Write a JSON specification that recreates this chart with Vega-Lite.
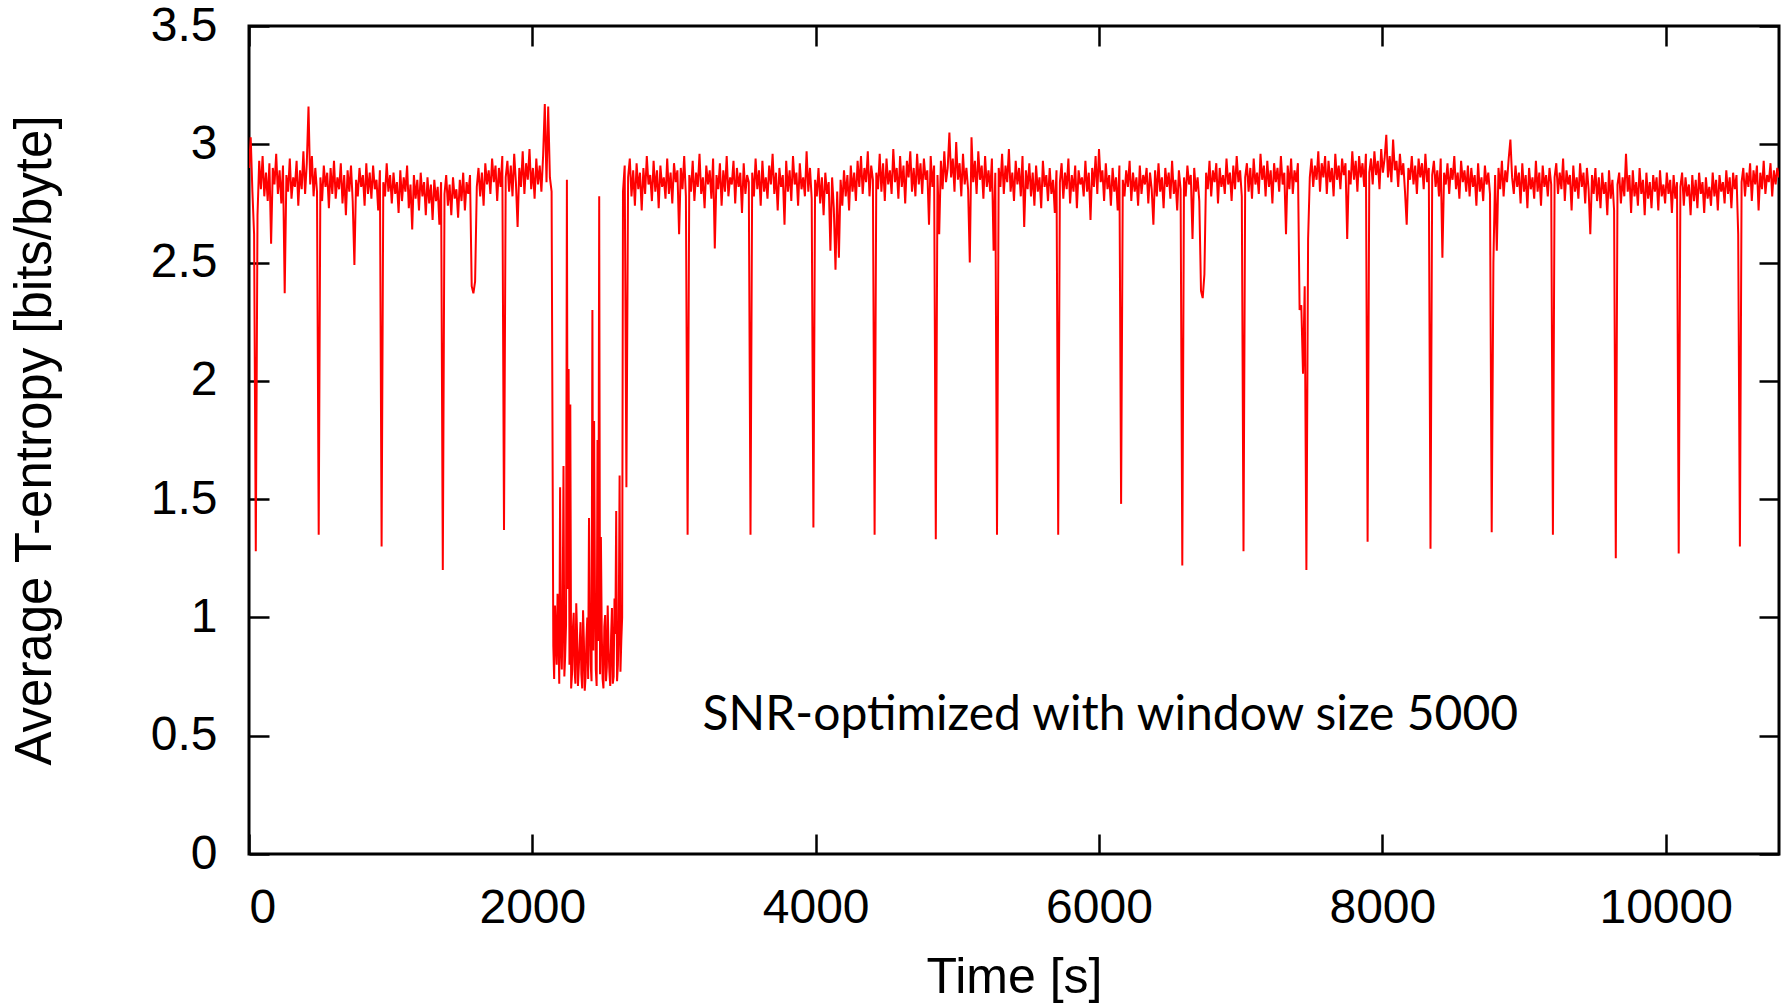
{
"$schema": "https://vega.github.io/schema/vega-lite/v6.json",
"width": 1530, "height": 828,
"autosize": {"type": "none"},
"padding": {"left": 249, "top": 26, "right": 7, "bottom": 154},
"background": "white",
"config": {"view": {"stroke": "black", "strokeWidth": 3}, "font": "Liberation Sans"},
"resolve": {"axis": {"x": "independent", "y": "independent"}},
"layer": [
{"data": {"values": [
{"t":0,"v":2.90},{"t":12,"v":3.03},{"t":24,"v":2.80},{"t":36,"v":2.62},{"t":48,"v":1.28},{"t":60,"v":2.70},{"t":72,"v":2.93},{"t":84,"v":2.81},{"t":96,"v":2.95},{"t":108,"v":2.78},
{"t":120,"v":2.88},{"t":132,"v":2.76},{"t":144,"v":2.92},{"t":156,"v":2.58},{"t":168,"v":2.90},{"t":180,"v":2.83},{"t":192,"v":2.96},{"t":204,"v":2.79},{"t":216,"v":2.89},{"t":228,"v":2.75},
{"t":240,"v":2.91},{"t":252,"v":2.37},{"t":264,"v":2.87},{"t":276,"v":2.80},{"t":288,"v":2.94},{"t":300,"v":2.77},{"t":312,"v":2.86},{"t":324,"v":2.82},{"t":336,"v":2.93},{"t":348,"v":2.74},
{"t":360,"v":2.89},{"t":372,"v":2.81},{"t":384,"v":2.97},{"t":396,"v":2.79},{"t":408,"v":2.92},{"t":420,"v":3.16},{"t":432,"v":2.83},{"t":444,"v":2.95},{"t":456,"v":2.78},{"t":468,"v":2.90},
{"t":480,"v":2.80},{"t":492,"v":1.35},{"t":504,"v":2.86},{"t":516,"v":2.76},{"t":528,"v":2.91},{"t":540,"v":2.82},{"t":552,"v":2.88},{"t":564,"v":2.73},{"t":576,"v":2.90},{"t":588,"v":2.79},
{"t":600,"v":2.93},{"t":612,"v":2.77},{"t":624,"v":2.86},{"t":636,"v":2.81},{"t":648,"v":2.92},{"t":660,"v":2.75},{"t":672,"v":2.87},{"t":684,"v":2.70},{"t":696,"v":2.89},{"t":708,"v":2.80},
{"t":720,"v":2.91},{"t":732,"v":2.76},{"t":744,"v":2.49},{"t":756,"v":2.85},{"t":768,"v":2.78},{"t":780,"v":2.90},{"t":792,"v":2.82},{"t":804,"v":2.87},{"t":816,"v":2.74},{"t":828,"v":2.92},
{"t":840,"v":2.79},{"t":852,"v":2.88},{"t":864,"v":2.77},{"t":876,"v":2.91},{"t":888,"v":2.81},{"t":900,"v":2.85},{"t":912,"v":2.72},{"t":924,"v":2.89},{"t":936,"v":1.30},{"t":948,"v":2.84},
{"t":960,"v":2.78},{"t":972,"v":2.92},{"t":984,"v":2.80},{"t":996,"v":2.87},{"t":1008,"v":2.75},{"t":1020,"v":2.88},{"t":1032,"v":2.79},{"t":1044,"v":2.84},{"t":1056,"v":2.71},{"t":1068,"v":2.89},
{"t":1080,"v":2.76},{"t":1092,"v":2.86},{"t":1104,"v":2.80},{"t":1116,"v":2.91},{"t":1128,"v":2.73},{"t":1140,"v":2.83},{"t":1152,"v":2.64},{"t":1164,"v":2.87},{"t":1176,"v":2.77},{"t":1188,"v":2.85},
{"t":1200,"v":2.72},{"t":1212,"v":2.88},{"t":1224,"v":2.78},{"t":1236,"v":2.84},{"t":1248,"v":2.70},{"t":1260,"v":2.86},{"t":1272,"v":2.75},{"t":1284,"v":2.83},{"t":1296,"v":2.68},{"t":1308,"v":2.85},
{"t":1320,"v":2.76},{"t":1332,"v":2.82},{"t":1344,"v":2.66},{"t":1356,"v":2.84},{"t":1368,"v":1.20},{"t":1380,"v":2.79},{"t":1392,"v":2.87},{"t":1404,"v":2.74},{"t":1416,"v":2.83},{"t":1428,"v":2.70},
{"t":1440,"v":2.86},{"t":1452,"v":2.77},{"t":1464,"v":2.81},{"t":1476,"v":2.69},{"t":1488,"v":2.85},{"t":1500,"v":2.76},{"t":1512,"v":2.88},{"t":1524,"v":2.72},{"t":1536,"v":2.84},{"t":1548,"v":2.79},
{"t":1560,"v":2.87},{"t":1572,"v":2.40},{"t":1584,"v":2.37},{"t":1596,"v":2.42},{"t":1608,"v":2.82},{"t":1620,"v":2.90},{"t":1632,"v":2.78},{"t":1644,"v":2.88},{"t":1656,"v":2.74},{"t":1668,"v":2.92},
{"t":1680,"v":2.83},{"t":1692,"v":2.89},{"t":1704,"v":2.79},{"t":1716,"v":2.94},{"t":1728,"v":2.84},{"t":1740,"v":2.91},{"t":1752,"v":2.76},{"t":1764,"v":2.90},{"t":1776,"v":2.82},{"t":1788,"v":2.95},
{"t":1800,"v":1.37},{"t":1812,"v":2.86},{"t":1824,"v":2.93},{"t":1836,"v":2.80},{"t":1848,"v":2.91},{"t":1860,"v":2.78},{"t":1872,"v":2.96},{"t":1884,"v":2.84},{"t":1896,"v":2.65},{"t":1908,"v":2.90},
{"t":1920,"v":2.82},{"t":1932,"v":2.97},{"t":1944,"v":2.79},{"t":1956,"v":2.92},{"t":1968,"v":2.85},{"t":1980,"v":2.98},{"t":1992,"v":2.81},{"t":2004,"v":2.90},{"t":2016,"v":2.77},{"t":2028,"v":2.94},
{"t":2040,"v":2.83},{"t":2052,"v":2.91},{"t":2064,"v":2.80},{"t":2076,"v":2.95},{"t":2088,"v":3.17},{"t":2100,"v":2.84},{"t":2112,"v":3.16},{"t":2124,"v":2.86},{"t":2136,"v":2.80},{"t":2148,"v":0.88},
{"t":2154,"v":0.74},{"t":2160,"v":1.05},{"t":2166,"v":0.92},{"t":2172,"v":0.80},{"t":2178,"v":1.10},{"t":2184,"v":0.95},{"t":2190,"v":0.72},{"t":2196,"v":1.55},{"t":2202,"v":0.88},{"t":2208,"v":0.78},
{"t":2214,"v":1.02},{"t":2220,"v":1.64},{"t":2226,"v":0.75},{"t":2232,"v":0.84},{"t":2238,"v":0.97},{"t":2244,"v":2.85},{"t":2250,"v":1.12},{"t":2256,"v":2.05},{"t":2262,"v":0.80},{"t":2268,"v":1.90},
{"t":2274,"v":0.70},{"t":2280,"v":0.76},{"t":2286,"v":0.95},{"t":2292,"v":1.02},{"t":2298,"v":0.78},{"t":2304,"v":0.72},{"t":2310,"v":1.06},{"t":2316,"v":0.93},{"t":2322,"v":0.71},{"t":2328,"v":0.79},
{"t":2334,"v":0.88},{"t":2340,"v":0.98},{"t":2346,"v":0.76},{"t":2352,"v":0.70},{"t":2358,"v":1.03},{"t":2364,"v":0.90},{"t":2370,"v":0.69},{"t":2376,"v":0.75},{"t":2382,"v":0.91},{"t":2388,"v":1.00},
{"t":2394,"v":0.74},{"t":2400,"v":1.42},{"t":2406,"v":0.99},{"t":2412,"v":0.80},{"t":2418,"v":0.73},{"t":2424,"v":2.30},{"t":2430,"v":0.86},{"t":2436,"v":1.83},{"t":2442,"v":1.10},{"t":2448,"v":0.78},
{"t":2454,"v":0.71},{"t":2460,"v":1.75},{"t":2466,"v":0.90},{"t":2472,"v":2.78},{"t":2478,"v":0.76},{"t":2484,"v":1.34},{"t":2490,"v":0.94},{"t":2496,"v":0.74},{"t":2502,"v":0.70},{"t":2508,"v":0.96},
{"t":2514,"v":1.01},{"t":2520,"v":0.73},{"t":2526,"v":0.79},{"t":2532,"v":1.05},{"t":2538,"v":0.87},{"t":2544,"v":0.77},{"t":2550,"v":0.71},{"t":2556,"v":0.92},{"t":2562,"v":1.04},{"t":2568,"v":0.72},
{"t":2574,"v":0.75},{"t":2580,"v":1.08},{"t":2586,"v":0.93},{"t":2592,"v":1.45},{"t":2598,"v":0.73},{"t":2604,"v":0.80},{"t":2610,"v":0.97},{"t":2616,"v":1.60},{"t":2622,"v":0.77},{"t":2628,"v":0.90},
{"t":2634,"v":1.00},
{"t":2640,"v":2.80},{"t":2652,"v":2.91},{"t":2664,"v":1.55},{"t":2676,"v":2.86},{"t":2688,"v":2.94},{"t":2700,"v":2.78},{"t":2712,"v":2.89},{"t":2724,"v":2.74},{"t":2736,"v":2.92},{"t":2748,"v":2.81},
{"t":2760,"v":2.88},{"t":2772,"v":2.72},{"t":2784,"v":2.90},{"t":2796,"v":2.79},{"t":2808,"v":2.95},{"t":2820,"v":2.83},{"t":2832,"v":2.87},{"t":2844,"v":2.76},{"t":2856,"v":2.93},{"t":2868,"v":2.80},
{"t":2880,"v":2.89},{"t":2892,"v":2.73},{"t":2904,"v":2.91},{"t":2916,"v":2.82},{"t":2928,"v":2.86},{"t":2940,"v":2.77},{"t":2952,"v":2.94},{"t":2964,"v":2.79},{"t":2976,"v":2.88},{"t":2988,"v":2.75},
{"t":3000,"v":2.92},{"t":3012,"v":2.84},{"t":3024,"v":2.89},{"t":3036,"v":2.62},{"t":3048,"v":2.90},{"t":3060,"v":2.81},{"t":3072,"v":2.95},{"t":3084,"v":2.78},{"t":3096,"v":1.35},{"t":3108,"v":2.87},
{"t":3120,"v":2.80},{"t":3132,"v":2.93},{"t":3144,"v":2.76},{"t":3156,"v":2.88},{"t":3168,"v":2.82},{"t":3180,"v":2.96},{"t":3192,"v":2.79},{"t":3204,"v":2.86},{"t":3216,"v":2.73},{"t":3228,"v":2.91},
{"t":3240,"v":2.83},{"t":3252,"v":2.89},{"t":3264,"v":2.77},{"t":3276,"v":2.94},{"t":3288,"v":2.56},{"t":3300,"v":2.87},{"t":3312,"v":2.81},{"t":3324,"v":2.92},{"t":3336,"v":2.74},{"t":3348,"v":2.89},
{"t":3360,"v":2.80},{"t":3372,"v":2.95},{"t":3384,"v":2.78},{"t":3396,"v":2.86},{"t":3408,"v":2.83},{"t":3420,"v":2.93},{"t":3432,"v":2.75},{"t":3444,"v":2.90},{"t":3456,"v":2.82},{"t":3468,"v":2.88},
{"t":3480,"v":2.71},{"t":3492,"v":2.92},{"t":3504,"v":2.79},{"t":3516,"v":2.87},{"t":3528,"v":2.84},{"t":3540,"v":1.35},{"t":3552,"v":2.88},{"t":3564,"v":2.78},{"t":3576,"v":2.94},{"t":3588,"v":2.81},
{"t":3600,"v":2.89},{"t":3612,"v":2.74},{"t":3624,"v":2.93},{"t":3636,"v":2.80},{"t":3648,"v":2.86},{"t":3660,"v":2.77},{"t":3672,"v":2.91},{"t":3684,"v":2.83},{"t":3696,"v":2.96},{"t":3708,"v":2.79},
{"t":3720,"v":2.88},{"t":3732,"v":2.72},{"t":3744,"v":2.90},{"t":3756,"v":2.82},{"t":3768,"v":2.87},{"t":3780,"v":2.66},{"t":3792,"v":2.93},{"t":3804,"v":2.80},{"t":3816,"v":2.89},{"t":3828,"v":2.76},
{"t":3840,"v":2.95},{"t":3852,"v":2.83},{"t":3864,"v":2.88},{"t":3876,"v":2.74},{"t":3888,"v":2.92},{"t":3900,"v":2.81},{"t":3912,"v":2.86},{"t":3924,"v":2.78},{"t":3936,"v":2.97},{"t":3948,"v":2.80},
{"t":3960,"v":2.90},{"t":3972,"v":2.77},{"t":3984,"v":1.38},{"t":3996,"v":2.85},{"t":4008,"v":2.78},{"t":4020,"v":2.90},{"t":4032,"v":2.75},{"t":4044,"v":2.86},{"t":4056,"v":2.70},{"t":4068,"v":2.88},
{"t":4080,"v":2.79},{"t":4092,"v":2.84},{"t":4104,"v":2.55},{"t":4116,"v":2.86},{"t":4128,"v":2.73},{"t":4140,"v":2.47},{"t":4152,"v":2.80},{"t":4164,"v":2.52},{"t":4176,"v":2.85},{"t":4188,"v":2.74},
{"t":4200,"v":2.89},{"t":4212,"v":2.78},{"t":4224,"v":2.87},{"t":4236,"v":2.72},{"t":4248,"v":2.91},{"t":4260,"v":2.80},{"t":4272,"v":2.88},{"t":4284,"v":2.76},{"t":4296,"v":2.93},{"t":4308,"v":2.82},
{"t":4320,"v":2.95},{"t":4332,"v":2.79},{"t":4344,"v":2.90},{"t":4356,"v":2.84},{"t":4368,"v":2.97},{"t":4380,"v":2.78},{"t":4392,"v":2.91},{"t":4404,"v":2.85},{"t":4416,"v":1.35},{"t":4428,"v":2.88},
{"t":4440,"v":2.81},{"t":4452,"v":2.96},{"t":4464,"v":2.80},{"t":4476,"v":2.92},{"t":4488,"v":2.76},{"t":4500,"v":2.94},{"t":4512,"v":2.83},{"t":4524,"v":2.89},{"t":4536,"v":2.79},{"t":4548,"v":2.98},
{"t":4560,"v":2.84},{"t":4572,"v":2.90},{"t":4584,"v":2.77},{"t":4596,"v":2.95},{"t":4608,"v":2.82},{"t":4620,"v":2.91},{"t":4632,"v":2.75},{"t":4644,"v":2.93},{"t":4656,"v":2.86},{"t":4668,"v":2.97},
{"t":4680,"v":2.80},{"t":4692,"v":2.90},{"t":4704,"v":2.78},{"t":4716,"v":2.96},{"t":4728,"v":2.83},{"t":4740,"v":2.92},{"t":4752,"v":2.79},{"t":4764,"v":2.94},{"t":4776,"v":2.85},{"t":4788,"v":2.89},
{"t":4800,"v":2.66},{"t":4812,"v":2.95},{"t":4824,"v":2.82},{"t":4836,"v":2.91},{"t":4848,"v":1.33},{"t":4860,"v":2.87},{"t":4872,"v":2.62},{"t":4884,"v":2.93},{"t":4896,"v":2.81},{"t":4908,"v":2.97},
{"t":4920,"v":2.84},{"t":4932,"v":2.90},{"t":4944,"v":3.05},{"t":4956,"v":2.86},{"t":4968,"v":2.94},{"t":4980,"v":2.80},{"t":4992,"v":3.01},{"t":5004,"v":2.85},{"t":5016,"v":2.92},{"t":5028,"v":2.78},
{"t":5040,"v":2.96},{"t":5052,"v":2.83},{"t":5064,"v":2.90},{"t":5076,"v":2.81},{"t":5088,"v":2.50},{"t":5100,"v":3.03},{"t":5112,"v":2.84},{"t":5124,"v":2.93},{"t":5136,"v":2.79},{"t":5148,"v":2.97},
{"t":5160,"v":2.85},{"t":5172,"v":2.91},{"t":5184,"v":2.77},{"t":5196,"v":2.95},{"t":5208,"v":2.82},{"t":5220,"v":2.89},{"t":5232,"v":2.80},{"t":5244,"v":2.94},{"t":5256,"v":2.55},{"t":5268,"v":2.88},
{"t":5280,"v":1.35},{"t":5292,"v":2.90},{"t":5304,"v":2.82},{"t":5316,"v":2.96},{"t":5328,"v":2.79},{"t":5340,"v":2.91},{"t":5352,"v":2.84},{"t":5364,"v":2.98},{"t":5376,"v":2.80},{"t":5388,"v":2.88},
{"t":5400,"v":2.76},{"t":5412,"v":2.93},{"t":5424,"v":2.83},{"t":5436,"v":2.90},{"t":5448,"v":2.78},{"t":5460,"v":2.95},{"t":5472,"v":2.65},{"t":5484,"v":2.89},{"t":5496,"v":2.81},{"t":5508,"v":2.92},
{"t":5520,"v":2.78},{"t":5532,"v":2.88},{"t":5544,"v":2.74},{"t":5556,"v":2.91},{"t":5568,"v":2.80},{"t":5580,"v":2.86},{"t":5592,"v":2.73},{"t":5604,"v":2.93},{"t":5616,"v":2.82},{"t":5628,"v":2.87},
{"t":5640,"v":2.76},{"t":5652,"v":2.90},{"t":5664,"v":2.79},{"t":5676,"v":2.85},{"t":5688,"v":2.71},{"t":5700,"v":2.89},{"t":5712,"v":1.35},{"t":5724,"v":2.84},{"t":5736,"v":2.92},{"t":5748,"v":2.77},
{"t":5760,"v":2.88},{"t":5772,"v":2.81},{"t":5784,"v":2.94},{"t":5796,"v":2.75},{"t":5808,"v":2.87},{"t":5820,"v":2.80},{"t":5832,"v":2.91},{"t":5844,"v":2.73},{"t":5856,"v":2.89},{"t":5868,"v":2.83},
{"t":5880,"v":2.86},{"t":5892,"v":2.78},{"t":5904,"v":2.93},{"t":5916,"v":2.80},{"t":5928,"v":2.88},{"t":5940,"v":2.68},{"t":5952,"v":2.90},{"t":5964,"v":2.82},{"t":5976,"v":2.95},{"t":5988,"v":2.79},
{"t":6000,"v":2.98},{"t":6012,"v":2.84},{"t":6024,"v":2.89},{"t":6036,"v":2.76},{"t":6048,"v":2.92},{"t":6060,"v":2.81},{"t":6072,"v":2.87},{"t":6084,"v":2.74},{"t":6096,"v":2.90},{"t":6108,"v":2.80},
{"t":6120,"v":2.86},{"t":6132,"v":2.72},{"t":6144,"v":2.91},{"t":6156,"v":1.48},{"t":6168,"v":2.85},{"t":6180,"v":2.78},{"t":6192,"v":2.89},{"t":6204,"v":2.82},{"t":6216,"v":2.93},{"t":6228,"v":2.76},
{"t":6240,"v":2.88},{"t":6252,"v":2.80},{"t":6264,"v":2.86},{"t":6276,"v":2.74},{"t":6288,"v":2.91},{"t":6300,"v":2.79},{"t":6312,"v":2.87},{"t":6324,"v":2.83},{"t":6336,"v":2.90},{"t":6348,"v":2.75},
{"t":6360,"v":2.88},{"t":6372,"v":2.81},{"t":6384,"v":2.66},{"t":6396,"v":2.89},{"t":6408,"v":2.78},{"t":6420,"v":2.92},{"t":6432,"v":2.80},{"t":6444,"v":2.86},{"t":6456,"v":2.73},{"t":6468,"v":2.90},
{"t":6480,"v":2.82},{"t":6492,"v":2.88},{"t":6504,"v":2.77},{"t":6516,"v":2.93},{"t":6528,"v":2.79},{"t":6540,"v":2.85},{"t":6552,"v":2.72},{"t":6564,"v":2.89},{"t":6576,"v":2.81},{"t":6588,"v":1.22},
{"t":6600,"v":2.86},{"t":6612,"v":2.78},{"t":6624,"v":2.91},{"t":6636,"v":2.83},{"t":6648,"v":2.87},{"t":6660,"v":2.60},{"t":6672,"v":2.90},{"t":6684,"v":2.80},{"t":6696,"v":2.86},{"t":6708,"v":2.76},
{"t":6720,"v":2.38},{"t":6732,"v":2.35},{"t":6744,"v":2.45},{"t":6756,"v":2.88},{"t":6768,"v":2.81},{"t":6780,"v":2.93},{"t":6792,"v":2.78},{"t":6804,"v":2.89},{"t":6816,"v":2.84},{"t":6828,"v":2.92},
{"t":6840,"v":2.75},{"t":6852,"v":2.90},{"t":6864,"v":2.82},{"t":6876,"v":2.87},{"t":6888,"v":2.79},{"t":6900,"v":2.94},{"t":6912,"v":2.83},{"t":6924,"v":2.88},{"t":6936,"v":2.76},{"t":6948,"v":2.91},
{"t":6960,"v":2.81},{"t":6972,"v":2.95},{"t":6984,"v":2.84},{"t":6996,"v":2.89},{"t":7008,"v":2.78},{"t":7020,"v":1.28},{"t":7032,"v":2.86},{"t":7044,"v":2.92},{"t":7056,"v":2.80},{"t":7068,"v":2.90},
{"t":7080,"v":2.77},{"t":7092,"v":2.94},{"t":7104,"v":2.83},{"t":7116,"v":2.88},{"t":7128,"v":2.79},{"t":7140,"v":2.96},{"t":7152,"v":2.85},{"t":7164,"v":2.91},{"t":7176,"v":2.78},{"t":7188,"v":2.93},
{"t":7200,"v":2.82},{"t":7212,"v":2.89},{"t":7224,"v":2.75},{"t":7236,"v":2.92},{"t":7248,"v":2.84},{"t":7260,"v":2.90},{"t":7272,"v":2.80},{"t":7284,"v":2.95},{"t":7296,"v":2.83},{"t":7308,"v":2.88},
{"t":7320,"v":2.62},{"t":7332,"v":2.91},{"t":7344,"v":2.81},{"t":7356,"v":2.94},{"t":7368,"v":2.79},{"t":7380,"v":2.89},{"t":7392,"v":2.84},{"t":7404,"v":2.92},{"t":7416,"v":2.30},{"t":7428,"v":2.32},
{"t":7440,"v":2.03},{"t":7452,"v":2.40},{"t":7464,"v":1.20},{"t":7476,"v":2.60},{"t":7488,"v":2.86},{"t":7500,"v":2.94},{"t":7512,"v":2.82},{"t":7524,"v":2.91},{"t":7536,"v":2.85},{"t":7548,"v":2.97},
{"t":7560,"v":2.80},{"t":7572,"v":2.92},{"t":7584,"v":2.86},{"t":7596,"v":2.95},{"t":7608,"v":2.79},{"t":7620,"v":2.93},{"t":7632,"v":2.84},{"t":7644,"v":2.90},{"t":7656,"v":2.78},{"t":7668,"v":2.96},
{"t":7680,"v":2.85},{"t":7692,"v":2.91},{"t":7704,"v":2.81},{"t":7716,"v":2.94},{"t":7728,"v":2.87},{"t":7740,"v":2.92},{"t":7752,"v":2.60},{"t":7764,"v":2.89},{"t":7776,"v":2.83},{"t":7788,"v":2.97},
{"t":7800,"v":2.85},{"t":7812,"v":2.93},{"t":7824,"v":2.80},{"t":7836,"v":2.95},{"t":7848,"v":2.86},{"t":7860,"v":2.92},{"t":7872,"v":2.82},{"t":7884,"v":2.96},{"t":7896,"v":1.32},{"t":7908,"v":2.88},
{"t":7920,"v":2.94},{"t":7932,"v":2.83},{"t":7944,"v":2.97},{"t":7956,"v":2.87},{"t":7968,"v":2.93},{"t":7980,"v":2.81},{"t":7992,"v":2.98},{"t":8004,"v":2.88},{"t":8016,"v":2.94},{"t":8028,"v":3.04},
{"t":8040,"v":2.86},{"t":8052,"v":2.95},{"t":8064,"v":2.84},{"t":8076,"v":3.02},{"t":8088,"v":2.89},{"t":8100,"v":2.93},{"t":8112,"v":2.82},{"t":8124,"v":2.96},{"t":8136,"v":2.87},{"t":8148,"v":2.92},
{"t":8160,"v":2.80},{"t":8172,"v":2.66},{"t":8184,"v":2.90},{"t":8196,"v":2.85},{"t":8208,"v":2.95},{"t":8220,"v":2.83},{"t":8232,"v":2.91},{"t":8244,"v":2.79},{"t":8256,"v":2.94},{"t":8268,"v":2.86},
{"t":8280,"v":2.92},{"t":8292,"v":2.81},{"t":8304,"v":2.96},{"t":8316,"v":2.84},{"t":8328,"v":2.90},{"t":8340,"v":1.29},{"t":8352,"v":2.87},{"t":8364,"v":2.93},{"t":8376,"v":2.82},{"t":8388,"v":2.89},
{"t":8400,"v":2.78},{"t":8412,"v":2.94},{"t":8424,"v":2.52},{"t":8436,"v":2.88},{"t":8448,"v":2.83},{"t":8460,"v":2.92},{"t":8472,"v":2.79},{"t":8484,"v":2.90},{"t":8496,"v":2.85},{"t":8508,"v":2.95},
{"t":8520,"v":2.81},{"t":8532,"v":2.88},{"t":8544,"v":2.77},{"t":8556,"v":2.93},{"t":8568,"v":2.84},{"t":8580,"v":2.89},{"t":8592,"v":2.80},{"t":8604,"v":2.91},{"t":8616,"v":2.78},{"t":8628,"v":2.90},
{"t":8640,"v":2.82},{"t":8652,"v":2.87},{"t":8664,"v":2.74},{"t":8676,"v":2.92},{"t":8688,"v":2.80},{"t":8700,"v":2.86},{"t":8712,"v":2.76},{"t":8724,"v":2.91},{"t":8736,"v":2.83},{"t":8748,"v":2.88},
{"t":8760,"v":2.79},{"t":8772,"v":1.36},{"t":8784,"v":2.50},{"t":8796,"v":2.87},{"t":8808,"v":2.55},{"t":8820,"v":2.90},{"t":8832,"v":2.81},{"t":8844,"v":2.93},{"t":8856,"v":2.78},{"t":8868,"v":2.89},
{"t":8880,"v":2.84},{"t":8892,"v":2.94},{"t":8904,"v":3.02},{"t":8916,"v":2.86},{"t":8928,"v":2.79},{"t":8940,"v":2.91},{"t":8952,"v":2.82},{"t":8964,"v":2.88},{"t":8976,"v":2.75},{"t":8988,"v":2.92},
{"t":9000,"v":2.80},{"t":9012,"v":2.87},{"t":9024,"v":2.73},{"t":9036,"v":2.90},{"t":9048,"v":2.81},{"t":9060,"v":2.86},{"t":9072,"v":2.77},{"t":9084,"v":2.93},{"t":9096,"v":2.80},{"t":9108,"v":2.88},
{"t":9120,"v":2.74},{"t":9132,"v":2.91},{"t":9144,"v":2.82},{"t":9156,"v":2.87},{"t":9168,"v":2.78},{"t":9180,"v":2.90},{"t":9192,"v":2.83},{"t":9204,"v":1.35},{"t":9216,"v":2.86},{"t":9228,"v":2.92},
{"t":9240,"v":2.79},{"t":9252,"v":2.88},{"t":9264,"v":2.81},{"t":9276,"v":2.94},{"t":9288,"v":2.76},{"t":9300,"v":2.89},{"t":9312,"v":2.83},{"t":9324,"v":2.87},{"t":9336,"v":2.72},{"t":9348,"v":2.91},
{"t":9360,"v":2.80},{"t":9372,"v":2.86},{"t":9384,"v":2.77},{"t":9396,"v":2.92},{"t":9408,"v":2.82},{"t":9420,"v":2.88},{"t":9432,"v":2.75},{"t":9444,"v":2.90},{"t":9456,"v":2.81},{"t":9468,"v":2.62},
{"t":9480,"v":2.87},{"t":9492,"v":2.79},{"t":9504,"v":2.90},{"t":9516,"v":2.76},{"t":9528,"v":2.86},{"t":9540,"v":2.73},{"t":9552,"v":2.88},{"t":9564,"v":2.79},{"t":9576,"v":2.84},{"t":9588,"v":2.70},
{"t":9600,"v":2.89},{"t":9612,"v":2.77},{"t":9624,"v":2.85},{"t":9636,"v":2.72},{"t":9648,"v":1.25},{"t":9660,"v":2.83},{"t":9672,"v":2.88},{"t":9684,"v":2.75},{"t":9696,"v":2.86},{"t":9708,"v":2.78},
{"t":9720,"v":2.96},{"t":9732,"v":2.80},{"t":9744,"v":2.87},{"t":9756,"v":2.71},{"t":9768,"v":2.89},{"t":9780,"v":2.78},{"t":9792,"v":2.84},{"t":9804,"v":2.74},{"t":9816,"v":2.90},{"t":9828,"v":2.79},
{"t":9840,"v":2.85},{"t":9852,"v":2.70},{"t":9864,"v":2.88},{"t":9876,"v":2.77},{"t":9888,"v":2.84},{"t":9900,"v":2.73},{"t":9912,"v":2.87},{"t":9924,"v":2.80},{"t":9936,"v":2.86},{"t":9948,"v":2.72},
{"t":9960,"v":2.89},{"t":9972,"v":2.78},{"t":9984,"v":2.83},{"t":9996,"v":2.75},{"t":10008,"v":2.88},{"t":10020,"v":2.79},{"t":10032,"v":2.85},{"t":10044,"v":2.71},{"t":10056,"v":2.87},{"t":10068,"v":2.77},
{"t":10080,"v":2.84},{"t":10092,"v":1.27},{"t":10104,"v":2.82},{"t":10116,"v":2.88},{"t":10128,"v":2.74},{"t":10140,"v":2.86},{"t":10152,"v":2.78},{"t":10164,"v":2.83},{"t":10176,"v":2.70},{"t":10188,"v":2.87},
{"t":10200,"v":2.76},{"t":10212,"v":2.85},{"t":10224,"v":2.73},{"t":10236,"v":2.88},{"t":10248,"v":2.79},{"t":10260,"v":2.84},{"t":10272,"v":2.71},{"t":10284,"v":2.86},{"t":10296,"v":2.77},{"t":10308,"v":2.82},
{"t":10320,"v":2.74},{"t":10332,"v":2.88},{"t":10344,"v":2.78},{"t":10356,"v":2.85},{"t":10368,"v":2.72},{"t":10380,"v":2.87},{"t":10392,"v":2.80},{"t":10404,"v":2.84},{"t":10416,"v":2.75},{"t":10428,"v":2.89},
{"t":10440,"v":2.79},{"t":10452,"v":2.86},{"t":10464,"v":2.73},{"t":10476,"v":2.88},{"t":10488,"v":2.81},{"t":10500,"v":2.87},{"t":10512,"v":2.62},{"t":10524,"v":1.30},{"t":10536,"v":2.84},{"t":10548,"v":2.90},
{"t":10560,"v":2.78},{"t":10572,"v":2.88},{"t":10584,"v":2.82},{"t":10596,"v":2.92},{"t":10608,"v":2.76},{"t":10620,"v":2.89},{"t":10632,"v":2.83},{"t":10644,"v":2.91},{"t":10656,"v":2.72},{"t":10668,"v":2.88},
{"t":10680,"v":2.81},{"t":10692,"v":2.93},{"t":10704,"v":2.79},{"t":10716,"v":2.87},{"t":10728,"v":2.84},{"t":10740,"v":2.92},{"t":10752,"v":2.78},{"t":10764,"v":2.89},{"t":10776,"v":2.83},{"t":10788,"v":2.90},
{"t":10800,"v":2.86}
]},
"mark": {"type": "line", "color": "#ff0000", "strokeWidth": 2, "clip": true},
"encoding": {
"x": {"field": "t", "type": "quantitative", "scale": {"domain": [0, 10800], "nice": false, "zero": false},
"axis": {"orient": "bottom", "values": [0, 2000, 4000, 6000, 8000, 10000], "format": "d", "domain": false, "grid": false, "tickSize": -20, "tickWidth": 2.5, "tickColor": "black", "labelFont": "Liberation Sans", "labelFontSize": 48, "labelColor": "black", "labelPadding": 50, "labelFlush": true, "labelOverlap": false, "title": "Time [s]", "titleFont": "Liberation Sans", "titleFontSize": 50, "titleFontWeight": "normal", "titleColor": "black", "titleBaseline": "alphabetic", "titleX": 765, "titleY": 138}},
"y": {"field": "v", "type": "quantitative", "scale": {"domain": [0, 3.5], "nice": false, "zero": false},
"axis": {"orient": "left", "values": [0, 0.5, 1, 1.5, 2, 2.5, 3, 3.5], "format": "~g", "domain": false, "grid": false, "tickSize": -20, "tickWidth": 2.5, "tickColor": "black", "labelFont": "Liberation Sans", "labelFontSize": 48, "labelColor": "black", "labelPadding": 52, "labelOverlap": false, "labelFlush": false, "title": "Average T-entropy [bits/byte]", "titleFont": "Liberation Sans", "titleFontSize": 51, "titleFontWeight": "normal", "titleColor": "black", "titleBaseline": "alphabetic", "titleAngle": -90, "titleX": -199, "titleY": 414}}
}},
{"data": {"values": [{"t": 6080, "v": 0.524, "label": "SNR-optimized with window size 5000"}]},
"mark": {"type": "text", "font": "Lato", "fontSize": 48, "align": "center", "baseline": "alphabetic", "color": "black"},
"encoding": {
"x": {"field": "t", "type": "quantitative", "scale": {"domain": [0, 10800], "nice": false, "zero": false},
"axis": {"orient": "top", "values": [0, 2000, 4000, 6000, 8000, 10000], "labels": false, "domain": false, "grid": false, "tickSize": -20, "tickWidth": 2.5, "tickColor": "black", "title": null}},
"y": {"field": "v", "type": "quantitative", "scale": {"domain": [0, 3.5], "nice": false, "zero": false},
"axis": {"orient": "right", "values": [0, 0.5, 1, 1.5, 2, 2.5, 3, 3.5], "labels": false, "domain": false, "grid": false, "tickSize": -20, "tickWidth": 2.5, "tickColor": "black", "title": null}},
"text": {"field": "label"}
}}
]
}
